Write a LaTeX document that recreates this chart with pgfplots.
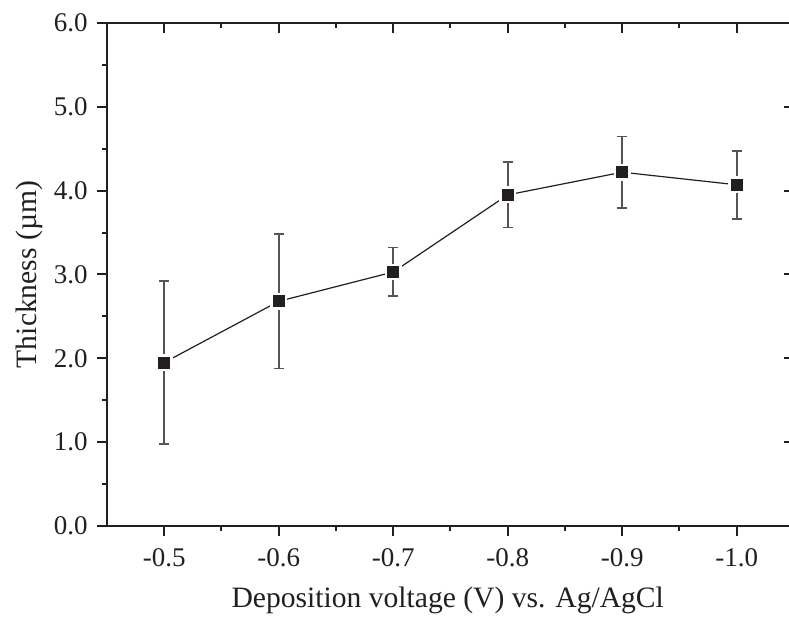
\documentclass[border=0pt]{standalone}
\usepackage{pgfplots}
\pgfplotsset{compat=1.18}
\usepackage{fontspec}
\setmainfont{Liberation Serif}
\definecolor{ink}{HTML}{231F20}
\definecolor{ebar}{HTML}{555555}
\pgfplotstableread{
x y e
-0.5 1.95 0.975
-0.6 2.68 0.80
-0.7 3.03 0.29
-0.8 3.95 0.39
-0.9 4.22 0.425
-1.0 4.07 0.405
}\datatab
\begin{document}
\fontsize{13.3}{16}\selectfont
\begin{tikzpicture}
\useasboundingbox (-53.5pt,-46.5pt) rectangle (341pt,263pt);
\pgfplotsset{
 common/.style={
  at={(0pt,0pt)}, anchor=south west,
  scale only axis, width=343.5pt, height=251.5pt,
  xmin=-1.05, xmax=-0.45, x dir=reverse, ymin=0, ymax=6,
  xtick={-1.0,-0.9,-0.8,-0.7,-0.6,-0.5},
  ytick={0,1,2,3,4,5,6},
  minor x tick num=1, minor y tick num=1,
  major tick length=5pt, minor tick length=2.5pt,
  axis line style={-, ink, line width=1pt},
  every tick/.style={ink, line width=1pt},
  every minor tick/.style={ink, line width=1pt},
  /pgf/number format/assume math mode=true,
  font=\fontsize{13.5}{16}\selectfont,
  ticklabel style={ink},
  xticklabel style={yshift=-1.5pt, /pgf/number format/.cd, fixed, fixed zerofill, precision=1},
  yticklabel style={/pgf/number format/.cd, fixed, fixed zerofill, precision=1},
 }
}
\begin{axis}[common,
  axis x line*=bottom, axis y line*=left, tick align=outside,
  xlabel={Deposition voltage (V) vs. Ag/AgCl},
  ylabel={Thickness (\textmu m)},
  every axis x label/.style={at={(axis description cs:0.496,-0.147)}, anchor=center, ink, font=\fontsize{14.8}{17}\selectfont},
  every axis y label/.style={at={(axis description cs:-0.113,0.5)}, rotate=90, anchor=center, ink, font=\fontsize{14.8}{17}\selectfont},
]
\addplot[ink, line width=0.6pt, mark=none,
  error bars/.cd, y dir=both, y explicit,
  error bar style={ebar, line width=0.8pt},
  error mark options={rotate=90, ebar, mark size=2.5pt, line width=0.8pt}]
  table[x=x, y=y, y error=e] {\datatab};
\addplot[only marks, mark=square*, mark size=3.6pt,
  mark options={fill=ink, draw=white, line width=1.2pt}]
  table[x=x, y=y] {\datatab};
\end{axis}
\begin{axis}[common,
  axis x line*=top, axis y line*=right, tick align=inside,
  xticklabels={}, yticklabels={}]
\end{axis}
\end{tikzpicture}
\end{document}
